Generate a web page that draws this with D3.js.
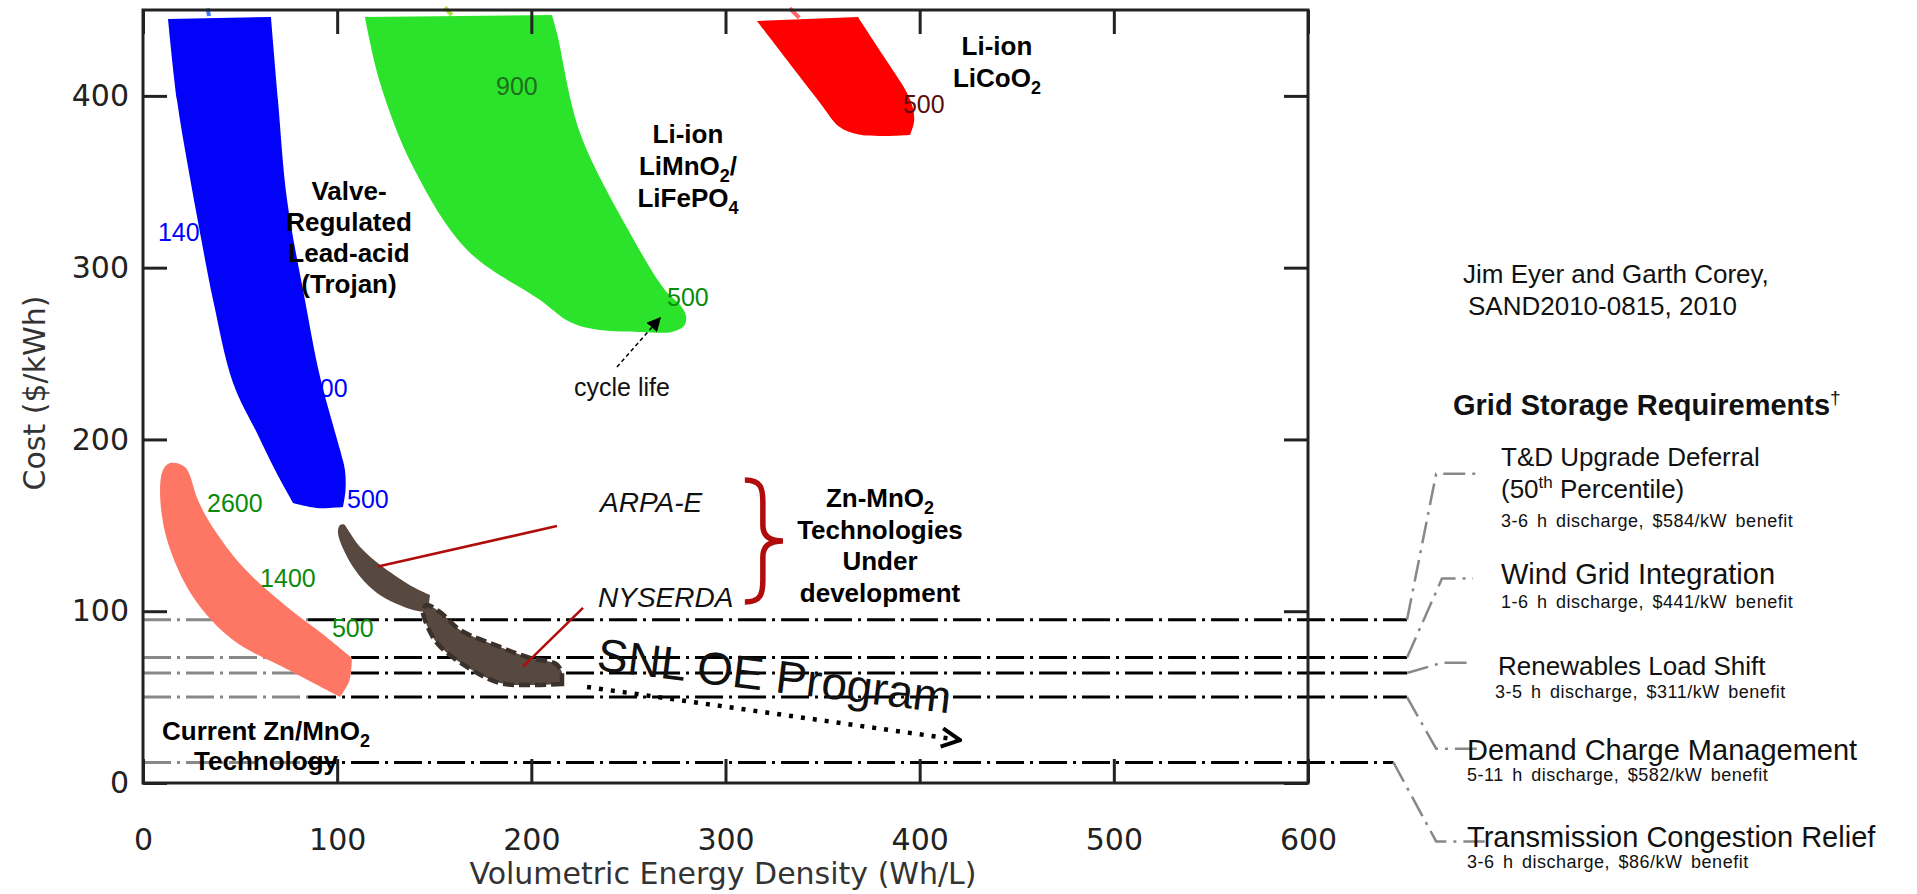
<!DOCTYPE html>
<html lang="en">
<head>
<meta charset="UTF-8">
<title>Zn-MnO2 cost vs energy density</title>
<script src="https://d3js.org/d3.v7.min.js"></script>
<style>
  body { margin: 0; background: #fff; }
  .axis text { font-family: "DejaVu Sans", sans-serif; font-size: 30px; fill: #222; }
  .axis line { stroke: #222; stroke-width: 3; }
  .axis path { display: none; }
  .tech { font-family: "Liberation Sans", Arial, sans-serif; font-weight: bold; font-size: 26px; fill: #000; text-anchor: middle; }
  .cyc { font-family: "Liberation Sans", Arial, sans-serif; font-size: 25px; }
  .note { font-family: "Liberation Sans", Arial, sans-serif; fill: #111; }
  .sub { font-family: "Liberation Sans", Arial, sans-serif; fill: #111; font-size: 18px; letter-spacing: 0.5px; word-spacing: 3px; }
</style>
</head>
<body>
<svg id="chart" width="1917" height="894"></svg>
<script>
  const xTicks = [0, 100, 200, 300, 400, 500, 600];
  const yTicks = [0, 100, 200, 300, 400];

  // region outlines as edges, [energy density (Wh/L), cost ($/kWh)]
  const vrlaBand = [
    [[12.9,444.8],[17.5,397.6],[23.2,358.6],[29.4,320.2],[36.1,281.2],[46.4,232.9],[58.7,203.7],[68.0,182.2],[77.3,163.0]],
    [[77.3,163.0],[89.6,160.1],[103.0,160.7]],
    [[103.0,160.7],[104.3,170.6],[104.0,182.2],[101.5,193.9],[91.2,236.4],[83.4,281.2],[74.2,339.4],[69.5,397.6],[65.9,445.9]],
    [[65.9,445.9],[12.9,444.8]]];
  const limnBand = [
    [[114.3,445.9],[122.1,407.5],[139.1,358.6],[166.9,310.3],[204.5,281.2],[219.9,268.4],[235.4,263.7],[256.0,262.6],
     [272.4,262.6],[278.6,266.0],[279.7,271.9],[276.6,278.3],[268.8,287.0],[250.8,320.2],[225.1,378.4],[213.2,436.6],[210.6,447.1]],
    [[210.6,447.1],[114.3,445.9]]];
  const licoBand = [
    [[316.2,443.6],[336.8,413.3],[348.7,395.9],[358.6,382.0],[368.0,377.6],[379.6,376.6],[395.0,377.2]],
    [[395.0,377.2],[397.1,384.8],[396.5,393.0],[393.5,401.7],[381.0,423.8],[368.2,445.9]],
    [[368.2,445.9],[316.2,443.6]]];
  const znBand = [
    [[101.5,50.1],[72.1,67.5],[46.4,83.2],[25.8,108.3],[12.4,141.5],[8.8,168.8],[10.3,182.2],[13.9,186.3],[21.6,184.0],
     [28.3,164.7],[34.5,151.4],[51.5,125.7],[74.2,102.5],[91.2,87.9],[107.6,72.8]],
    [[107.6,72.8],[106.4,60.0],[101.5,50.1]]];
  const arpaBand = [
    [[146.8,99.5],[139.1,100.7],[120.5,110.6],[108.2,125.7],[100.4,145.5],[101.5,150.2],[103.5,150.5],[105.6,147.3],
     [111.8,137.4],[123.6,125.7],[139.1,114.1],[147.8,109.4]],
    [[147.8,109.4],[146.8,99.5]]];
  const nyserdaBand = [
    [[215.8,57.6],[199.3,57.0],[183.9,58.2],[166.9,67.5],[151.4,81.5],[145.2,94.9],[144.2,100.7],[146.2,103.6],[153.0,99.5],
     [163.3,89.1],[183.9,79.2],[199.3,72.8],[212.7,69.3],[215.8,64.6]],
    [[215.8,64.6],[215.8,57.6]]];

  // cycle-life labels
  const cycText = ["1400", "900", "500", "900", "500", "500", "2600", "1400", "500"];
  const cycX = [7.7, 83.9, 105.1, 181.8, 269.9, 391.4, 33.0, 60.3, 97.3];
  const cycY = [315.5, 224.7, 160.1, 400.5, 277.7, 390.0, 157.8, 114.1, 85.0];
  const cycColor = ["#0000ff", "#0000ff", "#0000ff", "#1d6f1d", "#0a8a0a", "#5a0d0d", "#0a8a0a", "#0a8a0a", "#0a8a0a"];
  const cycHidden = [true, true, false, false, false, false, false, false, false];

  // grid storage cost targets
  const reqCosts = [95, 73, 64, 50, 12];
  const reqLineEnd = [651, 651, 651, 651, 644];
  const reqBendX = [666, 669, 669, 666, 666];
  const reqBendY = [180, 119, 70, 20, -34];
  const reqTipX = [689, 685, 685, 689, 691];
  const reqNames = ["T&D Upgrade Deferral", "Wind Grid Integration", "Renewables Load Shift",
    "Demand Charge Management", "Transmission Congestion Relief"];
  const reqDetails = ["3-6 h discharge,  $584/kW  benefit", "1-6 h discharge,  $441/kW  benefit",
    "3-5 h discharge,  $311/kW  benefit", "5-11 h discharge,  $582/kW  benefit", "3-6 h discharge,  $86/kW  benefit"];

  const svg = d3.select("#chart");
  const x = d3.scaleLinear().domain([0, 600]).range([143, 1308]);
  const y = d3.scaleLinear().domain([0, 450]).range([783, 10]);

  const defs = svg.append("defs");
  defs.append("marker").attr("id", "tri").attr("viewBox", "0 0 10 10")
      .attr("refX", 9).attr("refY", 5).attr("markerWidth", 14).attr("markerHeight", 14)
      .attr("markerUnits", "userSpaceOnUse").attr("orient", "auto")
    .append("path").attr("d", "M0,0L10,5L0,10Z").attr("fill", "#000");
  defs.append("marker").attr("id", "chev").attr("viewBox", "0 0 12 12")
      .attr("refX", 11).attr("refY", 6).attr("markerWidth", 22).attr("markerHeight", 22)
      .attr("markerUnits", "userSpaceOnUse").attr("orient", "auto")
    .append("path").attr("d", "M1,1L11,6L1,11").attr("fill", "none").attr("stroke", "#000").attr("stroke-width", 2.2);

  //requirement lines (grey on the left part, black after)
  const req = svg.append("g");
  reqCosts.forEach((c, i) => {
    req.append("line").attr("x1", x(0)).attr("x2", x(85)).attr("y1", y(c)).attr("y2", y(c))
      .attr("stroke", "#888").attr("stroke-width", 3).attr("stroke-dasharray", "28 6 3 6");
    req.append("line").attr("x1", x(85)).attr("x2", x(reqLineEnd[i])).attr("y1", y(c)).attr("y2", y(c))
      .attr("stroke", "#000").attr("stroke-width", 3).attr("stroke-dasharray", "28 6 3 6");
    req.append("path")
      .attr("d", d3.line()([[x(reqLineEnd[i]), y(c)], [x(reqBendX[i]), y(reqBendY[i])], [x(reqTipX[i]), y(reqBendY[i])]]))
      .attr("fill", "none").attr("stroke", "#888").attr("stroke-width", 2.5).attr("stroke-dasharray", "22 7 3 7");
  });

  // labels that sit underneath the blue band
  const cyc = svg.append("g");
  cycText.forEach((t, i) => {
    if (!cycHidden[i]) return;
    cyc.append("text").attr("class", "cyc").attr("x", x(cycX[i])).attr("y", y(cycY[i]))
      .attr("fill", cycColor[i]).text(t);
  });

  // each edge is smoothed on its own, corners between edges stay sharp
  const edge = d3.line().x(d => x(d[0])).y(d => y(d[1])).curve(d3.curveCatmullRom.alpha(0.5));
  const bandPath = edges => edges.map((e, i) => i ? edge(e).replace(/^M/, "L") : edge(e)).join("") + "Z";

  const bands = svg.append("g");
  bands.append("path").attr("d", bandPath(vrlaBand)).attr("fill", "#0202f8");
  bands.append("path").attr("d", bandPath(limnBand)).attr("fill", "#2be32b");
  bands.append("path").attr("d", bandPath(licoBand)).attr("fill", "#ff0000");
  bands.append("path").attr("d", bandPath(znBand)).attr("fill", "#fe7664");
  bands.append("path").attr("d", bandPath(arpaBand)).attr("fill", "#574840");
  bands.append("path").attr("d", bandPath(nyserdaBand)).attr("fill", "#574840")
    .attr("stroke", "#3b312b").attr("stroke-width", 4.5).attr("stroke-dasharray", "11 5");

  // little clipped marks at the top
  const marks = [[[33.3, 451], [34, 446.5], "#3d7bff"], [[155.5, 451.5], [159, 447], "#a6e23a"], [[333, 451], [338, 445.5], "#ff6a6a"]];
  marks.forEach(m => svg.append("line").attr("x1", x(m[0][0])).attr("y1", y(m[0][1]))
      .attr("x2", x(m[1][0])).attr("y2", y(m[1][1])).attr("stroke", m[2]).attr("stroke-width", 4));

  const cycTop = svg.append("g");
  cycText.forEach((t, i) => {
    if (cycHidden[i]) return;
    cycTop.append("text").attr("class", "cyc").attr("x", x(cycX[i])).attr("y", y(cycY[i]))
      .attr("fill", cycColor[i]).text(t);
  });

  // axes and frame
  svg.append("rect").attr("x", x(0)).attr("y", y(450)).attr("width", x(600) - x(0)).attr("height", y(0) - y(450))
    .attr("fill", "none").attr("stroke", "#222").attr("stroke-width", 3);
  svg.append("g").attr("class", "axis").attr("transform", `translate(0,${y(0)})`)
    .call(d3.axisBottom(x).tickValues(xTicks).tickSize(-24).tickPadding(46));
  svg.append("g").attr("class", "axis").attr("transform", `translate(0,${y(450)})`)
    .call(d3.axisTop(x).tickValues(xTicks).tickSize(-24).tickFormat(""));
  svg.append("g").attr("class", "axis").attr("transform", `translate(${x(0)},0)`)
    .call(d3.axisLeft(y).tickValues(yTicks).tickSize(-24).tickPadding(14));
  svg.append("g").attr("class", "axis").attr("transform", `translate(${x(600)},0)`)
    .call(d3.axisRight(y).tickValues(yTicks).tickSize(-24).tickFormat(""));

  svg.append("text").attr("x", 723).attr("y", 884).attr("text-anchor", "middle")
    .style("font-family", "DejaVu Sans").style("font-size", "30px").attr("fill", "#333")
    .text("Volumetric Energy Density (Wh/L)");
  svg.append("text").attr("transform", "translate(45,393) rotate(-90)").attr("text-anchor", "middle")
    .style("font-family", "DejaVu Sans").style("font-size", "30px").attr("fill", "#333")
    .text("Cost ($/kWh)");

  // technology names
  function techLabel(cx, lines, base, step) {
    const t = svg.append("g");
    lines.forEach((parts, k) => {
      const txt = t.append("text").attr("class", "tech").attr("x", cx).attr("y", base + k * step);
      parts.forEach(p => {
        if (typeof p === "string") txt.append("tspan").text(p);
        else {
          txt.append("tspan").attr("dy", p.dy).style("font-size", "18px").text(p.s);
          txt.append("tspan").attr("dy", -p.dy).text(p.after || "");
        }
      });
    });
  }
  techLabel(349, [["Valve-"], ["Regulated"], ["Lead-acid"], ["(Trojan)"]], 200, 31);
  techLabel(688, [["Li-ion"], ["LiMnO", {s: "2", dy: 7, after: "/"}], ["LiFePO", {s: "4", dy: 7}]], 143, 32);
  techLabel(997, [["Li-ion"], ["LiCoO", {s: "2", dy: 7}]], 55, 32);
  techLabel(880, [["Zn-MnO", {s: "2", dy: 7}], ["Technologies"], ["Under"], ["development"]], 507, 31.5);
  techLabel(266, [["Current Zn/MnO", {s: "2", dy: 7}], ["Technology"]], 740, 30);

  // ARPA-E / NYSERDA callouts
  const red = "#b00c0c";
  svg.append("line").attr("x1", x(121)).attr("y1", y(126)).attr("x2", x(213.2)).attr("y2", y(149.6))
    .attr("stroke", red).attr("stroke-width", 2.5);
  svg.append("line").attr("x1", x(226.6)).attr("y1", y(101.9)).attr("x2", x(195.7)).attr("y2", y(67.7))
    .attr("stroke", red).attr("stroke-width", 2.5);
  svg.append("text").attr("class", "note").attr("x", 600).attr("y", 512).style("font-size", "28px")
    .style("font-style", "italic").attr("fill", "#000").text("ARPA-E");
  svg.append("text").attr("class", "note").attr("x", 598).attr("y", 607).style("font-size", "28px")
    .style("font-style", "italic").attr("fill", "#000").text("NYSERDA");

  const bx = x(311), bTip = x(329.6), bTop = y(176.4), bBot = y(105.4), bMid = (bTop + bBot) / 2;
  svg.append("path")
    .attr("d", `M${bx - 2},${bTop} C${bx + 14},${bTop} ${bx + 16},${bTop + 8} ${bx + 16},${bTop + 22}
      L${bx + 16},${bMid - 16} C${bx + 16},${bMid - 4} ${bx + 24},${bMid} ${bTip},${bMid}
      C${bx + 24},${bMid} ${bx + 16},${bMid + 4} ${bx + 16},${bMid + 16}
      L${bx + 16},${bBot - 22} C${bx + 16},${bBot - 8} ${bx + 14},${bBot} ${bx - 2},${bBot}`)
    .attr("fill", "none").attr("stroke", red).attr("stroke-width", 5.5);

  // cycle life pointer
  svg.append("line").attr("x1", x(244.1)).attr("y1", y(242.2)).attr("x2", x(266.3)).attr("y2", y(270.7))
    .attr("stroke", "#000").attr("stroke-width", 1.5).attr("stroke-dasharray", "4 3").attr("marker-end", "url(#tri)");
  svg.append("text").attr("class", "note").attr("x", 622).attr("y", 396).attr("text-anchor", "middle")
    .style("font-size", "25px").attr("fill", "#000").text("cycle life");

  // SNL OE Program
  svg.append("text").attr("class", "note")
    .attr("transform", `translate(${x(233.2)},${y(65.8)}) rotate(7)`)
    .style("font-size", "46px").attr("fill", "#000").text("SNL OE Program");
  svg.append("line").attr("x1", x(228.7)).attr("y1", y(55.9)).attr("x2", x(420.8)).attr("y2", y(25.0))
    .attr("stroke", "#000").attr("stroke-width", 4.5).attr("stroke-dasharray", "4 8").attr("marker-end", "url(#chev)");

  // right-hand notes
  svg.append("text").attr("class", "note").attr("x", 1463).attr("y", 283).style("font-size", "26px").text("Jim Eyer and Garth Corey,");
  svg.append("text").attr("class", "note").attr("x", 1468).attr("y", 315).style("font-size", "26px").text("SAND2010-0815, 2010");
  const gh = svg.append("text").attr("class", "note").attr("x", 1453).attr("y", 415).style("font-size", "29px")
    .style("font-weight", "bold").attr("fill", "#000");
  gh.append("tspan").text("Grid Storage Requirements");
  gh.append("tspan").attr("dy", -11).style("font-size", "19px").style("font-weight", "normal").text("†");

  const reqX = [1501, 1501, 1498, 1467, 1467];
  const reqSize = [26, 29, 26, 29, 29];
  const reqBase = [466, 584, 675, 760, 847];
  const reqSubBase = [527, 608, 698, 781, 868];
  reqNames.forEach((n, i) => {
    svg.append("text").attr("class", "note").attr("x", reqX[i]).attr("y", reqBase[i])
      .style("font-size", reqSize[i] + "px").text(n);
    svg.append("text").attr("class", "sub").attr("x", reqX[i] - (i === 2 ? 3 : 0)).attr("y", reqSubBase[i])
      .text(reqDetails[i]);
  });
  const pct = svg.append("text").attr("class", "note").attr("x", 1501).attr("y", 498).style("font-size", "26px");
  pct.append("tspan").text("(50");
  pct.append("tspan").attr("dy", -10).style("font-size", "17px").text("th");
  pct.append("tspan").attr("dy", 10).text(" Percentile)");
</script>
</body>
</html>
